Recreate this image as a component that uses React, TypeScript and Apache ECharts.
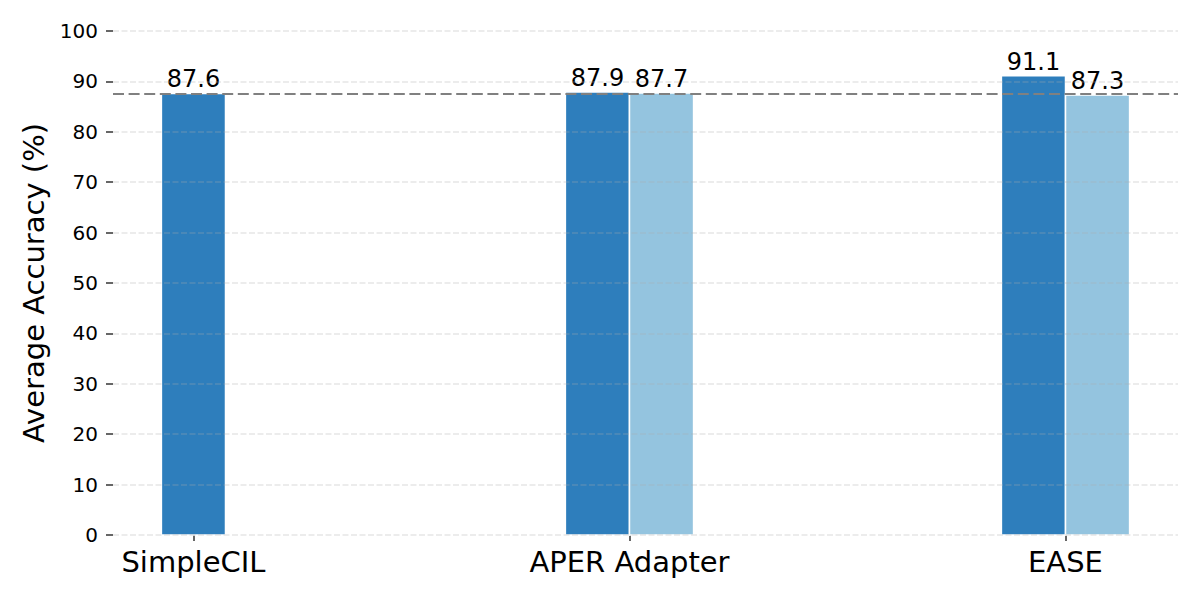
import React, { useEffect, useRef } from "react";
import * as echarts from "echarts";

const categories = ["SimpleCIL", "APER Adapter", "EASE"];
const baseValues: (number | null)[] = [87.6, 87.9, 91.1];
const variantValues: (number | null)[] = [null, 87.7, 87.3];
const referenceValue = 87.6;
const yTicks = { min: 0, max: 100, interval: 10 };

const BAR_W = 0.147;
const FONT = "DejaVu Sans";
const DARK = "#2e7ebc";
const LIGHT = "#94c4df";

function makeRender(isVariant: boolean, color: string) {
  return (params: any, api: any) => {
    const idx = api.value(0);
    const val = api.value(1);
    const paired = !isVariant ? variantValues[idx] != null : true;
    const center = paired ? (isVariant ? idx + BAR_W / 2 : idx - BAR_W / 2) : idx;
    const left = api.coord([center - BAR_W / 2, val]);
    const right = api.coord([center + BAR_W / 2, 0]);
    const x = left[0];
    const y = left[1];
    const w = right[0] - left[0];
    const h = right[1] - left[1];
    return {
      type: "group",
      children: [
        {
          type: "rect",
          shape: { x, y, width: w, height: h },
          style: { fill: color, stroke: "#ffffff", lineWidth: 1.5 },
        },
        {
          type: "text",
          x: x + w / 2,
          y: y - 2,
          style: {
            text: val.toFixed(1),
            fill: "#000000",
            font: `24px "${FONT}"`,
            align: "center",
            verticalAlign: "bottom",
          },
        },
      ],
    };
  };
}

export default function App() {
  const ref = useRef<HTMLDivElement>(null);
  useEffect(() => {
    if (!ref.current) return;
    const chart = echarts.init(ref.current, undefined, { renderer: "svg" });
    const baseData = categories
      .map((_, i) => (baseValues[i] != null ? [i, baseValues[i]] : null))
      .filter((d) => d != null);
    const variantData = categories
      .map((_, i) => (variantValues[i] != null ? [i, variantValues[i]] : null))
      .filter((d) => d != null);
    const tickVals = categories.map((_, i) => i);
    chart.setOption({
      animation: false,
      backgroundColor: "#ffffff",
      textStyle: { fontFamily: FONT },
      grid: { left: 113, right: 22, top: 31, bottom: 65 },
      xAxis: {
        type: "value",
        min: -0.1845,
        max: 2.258,
        axisLine: { show: false, onZero: false },
        splitLine: { show: false },
        axisTick: {
          show: true,
          customValues: tickVals,
          length: 6,
          lineStyle: { color: "#333333", width: 1.5 },
        },
        axisLabel: {
          customValues: tickVals,
          formatter: (v: number) => categories[Math.round(v)] ?? "",
          fontSize: 29,
          color: "#000000",
          fontFamily: FONT,
          margin: 12,
        },
      },
      yAxis: {
        type: "value",
        min: yTicks.min,
        max: yTicks.max,
        interval: yTicks.interval,
        z: 3,
        name: "Average Accuracy (%)",
        nameLocation: "middle",
        nameGap: 61,
        nameTextStyle: { fontSize: 29, color: "#000000", fontFamily: FONT },
        axisLine: { show: false, onZero: false },
        axisTick: {
          show: true,
          length: 7,
          lineStyle: { color: "#333333", width: 1.5 },
        },
        axisLabel: {
          fontSize: 20,
          color: "#000000",
          fontFamily: FONT,
          margin: 15,
        },
        splitLine: {
          show: true,
          lineStyle: {
            color: "rgba(176,176,176,0.3)",
            width: 1.5,
            type: [6, 2.5],
          },
        },
      },
      series: [
        {
          type: "custom",
          name: "base",
          renderItem: makeRender(false, DARK),
          encode: { x: 0, y: 1 },
          data: baseData,
          z: 2,
          markLine: {
            silent: true,
            symbol: "none",
            label: { show: false },
            lineStyle: { color: "#808080", width: 2.2, type: [11, 4.6] },
            data: [{ yAxis: referenceValue }],
            z: 5,
          },
        },
        {
          type: "custom",
          name: "variant",
          renderItem: makeRender(true, LIGHT),
          encode: { x: 0, y: 1 },
          data: variantData,
          z: 2,
        },
      ],
    });
    return () => chart.dispose();
  }, []);
  return (
    <div
      ref={ref}
      style={{ position: "fixed", left: 0, top: 0, width: 1200, height: 600 }}
    />
  );
}
